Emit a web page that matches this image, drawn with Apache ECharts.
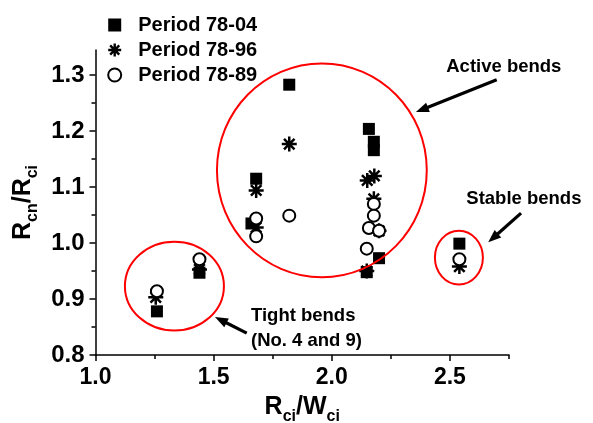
<!DOCTYPE html>
<html>
<head>
<meta charset="utf-8">
<script src="https://cdn.jsdelivr.net/npm/echarts@6/dist/echarts.min.js"></script>
<style>
  html, body { margin: 0; background: #fff; }
  #chart { width: 593px; height: 423px; }
</style>
</head>
<body>
<div id="chart"></div>
<script>
// tick values
const xTicks = [1.0, 1.5, 2.0, 2.5]
const xMinor = [1.25, 1.75, 2.25, 2.75]
const yTicks = [0.8, 0.9, 1.0, 1.1, 1.2, 1.3]
const yMinor = [0.85, 0.95, 1.05, 1.15, 1.25]

// data [Rci/Wci, Rcn/Rci]
const period7804 = [
  [1.26, 0.878], [1.44, 0.947], [1.68, 1.115], [1.66, 1.035], [1.82, 1.283],
  [2.157, 1.204], [2.178, 1.181], [2.178, 1.166], [2.2, 0.973], [2.148, 0.948],
  [2.54, 0.999]
]
const period7896 = [
  [1.255, 0.903], [1.44, 0.953], [1.68, 1.094], [1.68, 1.028], [1.82, 1.177],
  [2.15, 1.112], [2.18, 1.12], [2.178, 1.079], [2.2, 1.022], [2.148, 0.95],
  [2.54, 0.958]
]
const period7889 = [
  [1.26, 0.914], [1.44, 0.971], [1.68, 1.044], [1.68, 1.012], [1.82, 1.049],
  [2.178, 1.07], [2.178, 1.049], [2.157, 1.027], [2.2, 1.022], [2.148, 0.99],
  [2.54, 0.971]
]

// annotations, in data units
const groups = [
  { name: 'Active bends', cx: 1.958, cy: 1.13, rx: 0.444, ry: 0.191 },
  { name: 'Tight bends', cx: 1.334, cy: 0.923, rx: 0.2095, ry: 0.0793 },
  { name: 'Stable bends', cx: 2.538, cy: 0.974, rx: 0.1016, ry: 0.0481 }
]
const arrows = [
  { from: [2.698, 1.292], to: [2.356, 1.234] },
  { from: [2.801, 1.0535], to: [2.662, 1.0013] },
  { from: [1.64, 0.839], to: [1.5057, 0.868] }
]
const labels = [
  { text: 'Active bends', at: [2.728, 1.315], align: 'center' },
  { text: 'Stable bends', at: [2.813, 1.079], align: 'center' },
  { text: 'Tight bends\n(No. 4 and 9)', at: [1.658, 0.847], align: 'left' }
]

const font = 'Liberation Sans, Arial, sans-serif'
const asterisk = 'path://M10,0L10,20M0,10L20,10M3,3L17,17M3,17L17,3'

const chart = echarts.init(document.getElementById('chart'))

const nameRich = {
  b: { fontFamily: font, fontWeight: 'bold', fontSize: 25, color: '#000', lineHeight: 25, verticalAlign: 'top' },
  s: { fontFamily: font, fontWeight: 'bold', fontSize: 16, color: '#000', lineHeight: 16, padding: [14, 0, 0, 0], verticalAlign: 'top' }
}

const option = {
  animation: false,
  backgroundColor: '#fff',
  grid: { left: 95.5, right: 84, top: 50, bottom: 68, outerBoundsMode: 'none', containLabel: false },
  legend: {
    orient: 'vertical',
    left: 102,
    top: 10,
    itemWidth: 13,
    itemHeight: 13,
    itemGap: 5,
    textStyle: { fontFamily: font, fontWeight: 'bold', fontSize: 20, color: '#000', padding: [0, 0, 0, 12] },
    data: [
      { name: 'Period 78-04', icon: 'rect', itemStyle: { color: '#000', borderWidth: 0 } },
      { name: 'Period 78-96', icon: asterisk, itemStyle: { color: '#000', borderColor: '#000', borderWidth: 2.4 } },
      { name: 'Period 78-89', icon: 'emptyCircle', itemStyle: { color: '#000', borderColor: '#000', borderWidth: 1.8 } }
    ]
  },
  xAxis: [
    {
      type: 'value', min: 1, max: 2.75, position: 'bottom',
      name: '{b|R}{s|ci}{b|/W}{s|ci}',
      nameLocation: 'middle', nameGap: 40,
      nameTextStyle: { rich: nameRich },
      splitLine: { show: false },
      axisLine: { show: true, onZero: false, lineStyle: { color: '#000', width: 1.5 } },
      axisTick: { show: true, inside: false, length: 6, customValues: xTicks, lineStyle: { color: '#000', width: 1.5 } },
      axisLabel: { customValues: xTicks, formatter: v => v.toFixed(1), margin: 11, fontFamily: font, fontWeight: 'bold', fontSize: 23, color: '#000' }
    },
    {
      type: 'value', min: 1, max: 2.75, position: 'bottom',
      splitLine: { show: false },
      axisLine: { show: false },
      axisTick: { show: true, inside: false, length: 4, customValues: xMinor, lineStyle: { color: '#000', width: 1.5 } },
      axisLabel: { show: false }
    }
  ],
  yAxis: [
    {
      type: 'value', min: 0.8, max: 1.345, position: 'left',
      name: '{b|R}{s|cn}{b|/R}{s|ci}',
      nameLocation: 'middle', nameRotate: 90, nameGap: 50,
      nameTextStyle: { rich: nameRich },
      splitLine: { show: false },
      axisLine: { show: true, onZero: false, lineStyle: { color: '#000', width: 1.5 } },
      axisTick: { show: true, inside: false, length: 6, customValues: yTicks, lineStyle: { color: '#000', width: 1.5 } },
      axisLabel: { customValues: yTicks, formatter: v => v.toFixed(1), margin: 11, fontFamily: font, fontWeight: 'bold', fontSize: 24, color: '#000' }
    },
    {
      type: 'value', min: 0.8, max: 1.345, position: 'left',
      splitLine: { show: false },
      axisLine: { show: false },
      axisTick: { show: true, inside: false, length: 4, customValues: yMinor, lineStyle: { color: '#000', width: 1.5 } },
      axisLabel: { show: false }
    }
  ],
  series: [
    {
      name: 'Period 78-04', type: 'scatter', data: period7804,
      symbol: 'rect', symbolSize: 12,
      itemStyle: { color: '#000', opacity: 1 }
    },
    {
      name: 'Period 78-96', type: 'scatter', data: period7896,
      symbol: asterisk, symbolSize: 15,
      itemStyle: { color: '#000', borderColor: '#000', borderWidth: 2.5, opacity: 1 }
    },
    {
      name: 'Period 78-89', type: 'scatter', data: period7889,
      symbol: 'emptyCircle', symbolSize: 12,
      itemStyle: { color: '#000', borderWidth: 1.8, opacity: 1 }
    }
  ]
}

chart.setOption(option)

// red rings, arrows and notes placed through the axes
const toPx = p => chart.convertToPixel({ seriesIndex: 0 }, p)
const graphics = []
groups.forEach(g => {
  const c = toPx([g.cx, g.cy])
  const rx = toPx([g.cx + g.rx, g.cy])[0] - c[0]
  const ry = c[1] - toPx([g.cx, g.cy + g.ry])[1]
  graphics.push({
    type: 'ellipse', z: 10,
    shape: { cx: c[0], cy: c[1], rx: rx, ry: ry },
    style: { fill: 'none', stroke: '#ff0000', lineWidth: 2 }
  })
})
arrows.forEach(a => {
  const p1 = toPx(a.from)
  const p2 = toPx(a.to)
  const dx = p2[0] - p1[0], dy = p2[1] - p1[1]
  const len = Math.sqrt(dx * dx + dy * dy)
  const ux = dx / len, uy = dy / len
  const headL = 13, headW = 5
  const bx = p2[0] - ux * headL, by = p2[1] - uy * headL
  graphics.push({
    type: 'line', z: 10,
    shape: { x1: p1[0], y1: p1[1], x2: bx + ux * 2, y2: by + uy * 2 },
    style: { stroke: '#000', lineWidth: 3.2 }
  })
  graphics.push({
    type: 'polygon', z: 10,
    shape: { points: [[p2[0], p2[1]], [bx - uy * headW, by + ux * headW], [bx + uy * headW, by - ux * headW]] },
    style: { fill: '#000' }
  })
})
labels.forEach(l => {
  const p = toPx(l.at)
  graphics.push({
    type: 'text', z: 10, x: p[0], y: p[1],
    style: {
      text: l.text, fontFamily: font, fontWeight: 'bold', fontSize: 18.5, fill: '#000',
      align: l.align, verticalAlign: 'middle', lineHeight: 25
    }
  })
})
chart.setOption({ graphic: graphics })
</script>
</body>
</html>
